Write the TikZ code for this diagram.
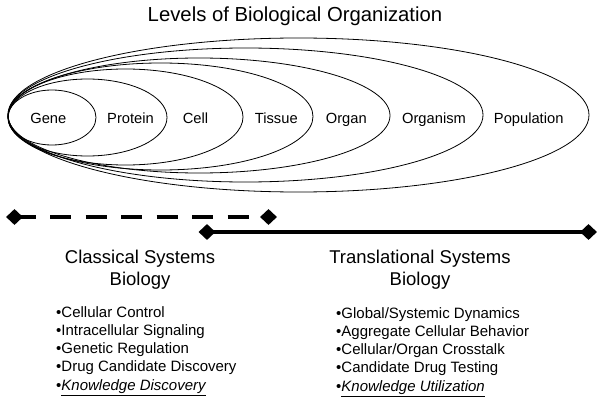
\documentclass[tikz,border=0pt]{standalone}
\usepackage{fontspec}
\setmainfont{Liberation Sans}
\usetikzlibrary{shapes.geometric}
\tikzset{
  ell/.style={draw=black, line width=0.8pt},
  lvl/.style={anchor=base, inner sep=0pt, font=\fontsize{14.7}{17}\selectfont},
  ttl/.style={anchor=base, inner sep=0pt, font=\fontsize{20.3}{24}\selectfont},
  head/.style={anchor=base, inner sep=0pt, font=\fontsize{18.5}{22}\selectfont},
  item/.style={anchor=base west, inner sep=0pt, font=\fontsize{15}{18}\selectfont},
  dia/.style={diamond, fill=black, draw=none, inner sep=0pt, minimum width=17pt, minimum height=16pt},
  bar/.style={line width=4.5pt, line cap=butt},
  dashbar/.style={bar, dash pattern=on 21pt off 14.5pt}
}
\begin{document}
\begin{tikzpicture}[x=1pt,y=-1pt]
\useasboundingbox (0,0) rectangle (604,401);
% title
\node[ttl] (title) at (295,21.5) {Levels of Biological Organization};
% nested ellipses (left edge x=8)
\draw[ell] (298.5,115)   ellipse [x radius=290.5pt, y radius=77pt];
\draw[ell] (245.5,115)   ellipse [x radius=237.5pt, y radius=67pt];
\draw[ell] (199,115.5)   ellipse [x radius=191pt,   y radius=57.5pt];
\draw[ell] (160.5,116.5) ellipse [x radius=152.5pt, y radius=53.5pt];
\draw[ell] (125.5,117)   ellipse [x radius=117.5pt, y radius=48pt];
\draw[ell] (87.5,117.5)  ellipse [x radius=79.5pt,  y radius=38.5pt];
\draw[ell] (52,117.5)    ellipse [x radius=44pt,    y radius=27.5pt];
% level labels
\node[lvl] (gene)  at (48.3,123)  {Gene};
\node[lvl] (prot)  at (130.5,123) {Protein};
\node[lvl] (cell)  at (195.5,123) {Cell};
\node[lvl] (tiss)  at (276.3,123) {Tissue};
\node[lvl] (organ) at (346.3,123) {Organ};
\node[lvl] (orgm)  at (434,123)   {Organism};
\node[lvl] (popu)  at (528.7,123) {Population};
% range bars
\node[dia] (d1) at (14.5,217) {};
\node[dia] (d2) at (268.5,217) {};
\node[dia] (d3) at (207,232) {};
\node[dia] (d4) at (588.5,232) {};
\draw[dashbar] (d1.center) -- (d2.center);
\draw[bar] (d3.center) -- (d4.center);
% headings
\node[head] (cs1) at (140,263) {Classical Systems};
\node[head] (cs2) at (140,285) {Biology};
\node[head] (ts1) at (420,263) {Translational Systems};
\node[head] (ts2) at (420,285) {Biology};
% left list
\node[item] (l1) at (56,317)   {•Cellular Control};
\node[item] (l2) at (56,335.3) {•Intracellular Signaling};
\node[item] (l3) at (56,353.6) {•Genetic Regulation};
\node[item] (l4) at (56,371.9) {•Drug Candidate Discovery};
\node[item] (l5) at (56,390.2) {•\underline{\textit{Knowledge Discovery}}};
% right list
\node[item] (r1) at (336,318)   {•Global/Systemic Dynamics};
\node[item] (r2) at (336,336.3) {•Aggregate Cellular Behavior};
\node[item] (r3) at (336,354.6) {•Cellular/Organ Crosstalk};
\node[item] (r4) at (336,372.9) {•Candidate Drug Testing};
\node[item] (r5) at (336,391.2) {•\underline{\textit{Knowledge Utilization}}};
\end{tikzpicture}
\end{document}
